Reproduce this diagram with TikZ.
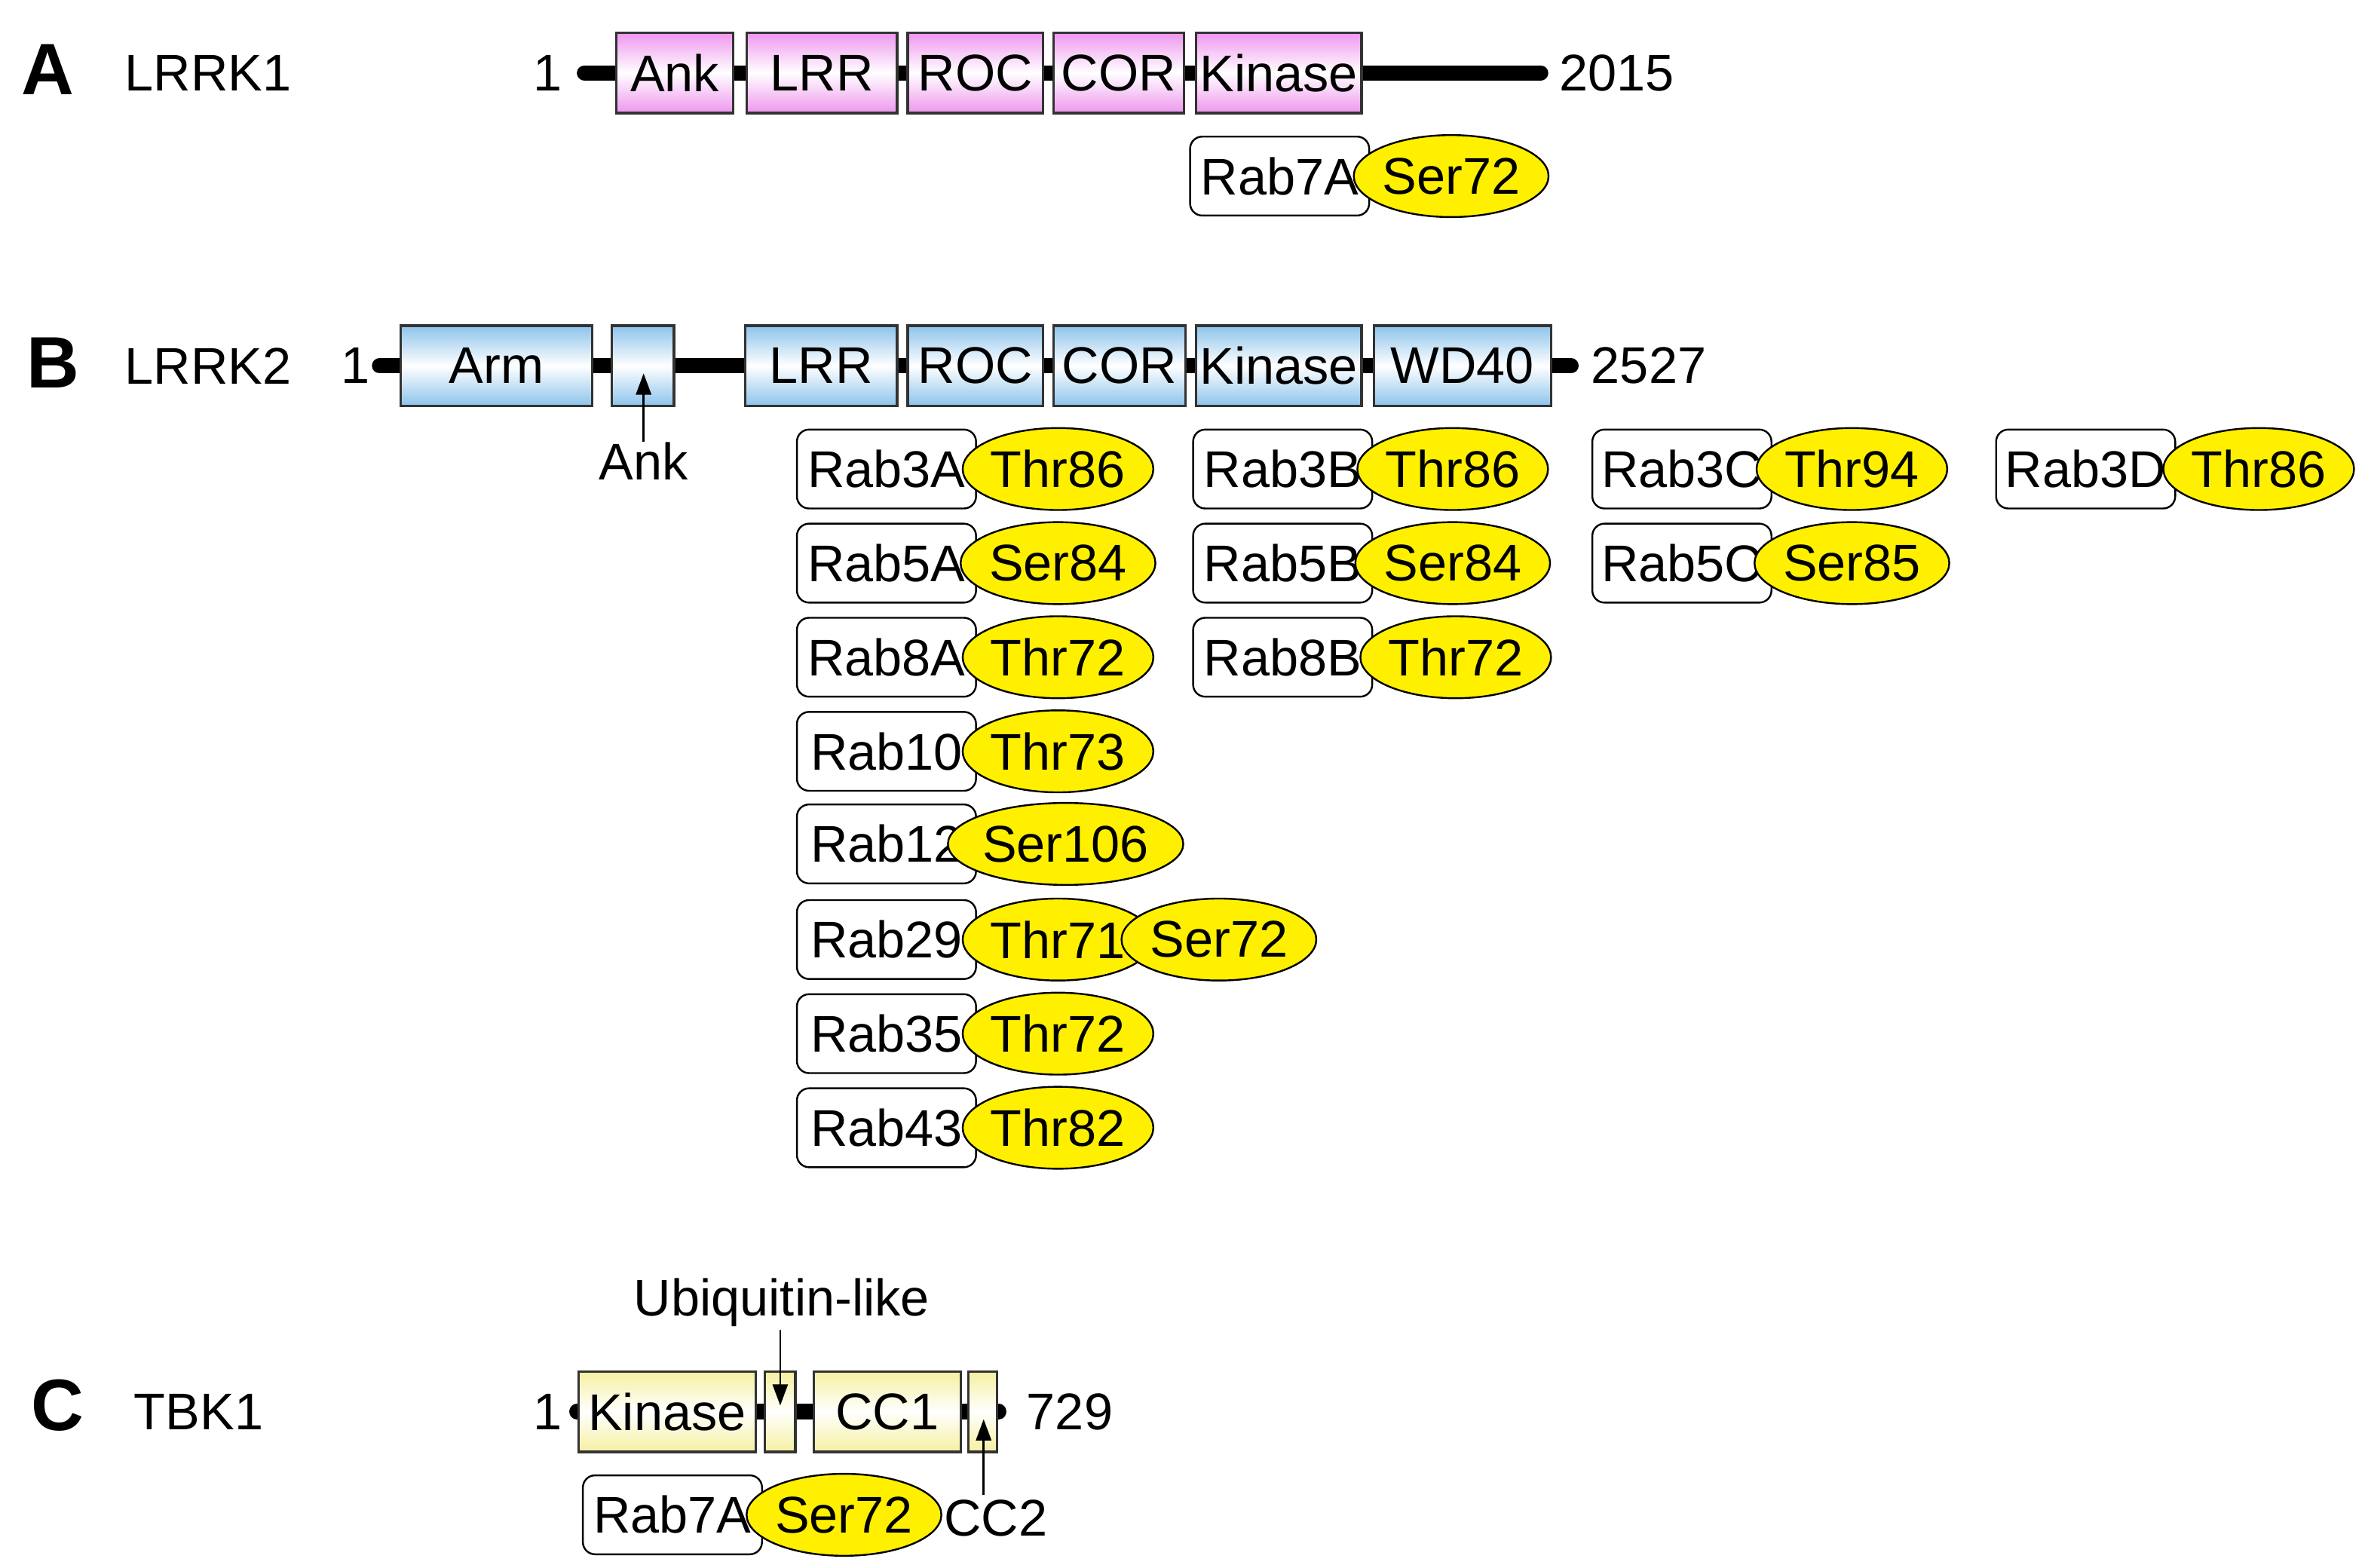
\documentclass[tikz,border=0pt]{standalone}
\usepackage{fontspec}
\setmainfont{Liberation Sans}
\usetikzlibrary{shapes.geometric,arrows.meta}
\definecolor{pk}{RGB}{238,150,238}
\definecolor{bl}{RGB}{140,195,235}
\definecolor{yl}{RGB}{245,240,160}
\definecolor{yel}{RGB}{255,240,0}
\tikzset{
 txt/.style={font=\fontsize{17}{20}\selectfont, inner sep=0pt},
 lab/.style={font=\fontsize{24}{28}\selectfont\bfseries, inner sep=0pt},
 dom/.style={draw=black!80, line width=0.8pt, txt, minimum height=26.5pt, top color=#1, bottom color=#1, middle color=white},
 rab/.style={draw, line width=0.6pt, rounded corners=4pt, txt, minimum width=59pt, minimum height=26pt, fill=white},
 site/.style={draw, line width=0.6pt, ellipse, fill=yel, txt, minimum width=55pt, minimum height=27pt},
 bb/.style={line width=5pt, line cap=round},
 arr/.style={line width=0.7pt, -{Triangle[length=7pt,width=5pt]}}
}
\begin{document}
\begin{tikzpicture}[x=0.5pt,y=-0.5pt]
\useasboundingbox (0,0) rectangle (1560,1033);
% ---- A
\node[lab,anchor=west] (lA) at (14,46) {A};
\node[txt,anchor=west] (nA) at (82,48) {LRRK1};
\node[txt] (sA) at (361,48) {1};
\node[txt,anchor=west] (eA) at (1027,48) {2015};
\coordinate (a1) at (385,48); \coordinate (a2) at (1015,48);
\draw[bb] (a1) -- (a2);
\node[dom=pk,minimum width=38.5pt] (ank1) at (444.5,48) {Ank};
\node[dom=pk,minimum width=49.5pt] (lrr1) at (541.5,48) {LRR};
\node[dom=pk,minimum width=44.5pt] (roc1) at (642.5,48) {ROC};
\node[dom=pk,minimum width=43pt] (cor1) at (737,48) {COR};
\node[dom=pk,minimum width=54.5pt] (kin1) at (842.5,48) {Kinase};
\node[rab] (r7a) at (843,116) {Rab7A};
\node[site] (s7a) at (956,116) {Ser72};
% ---- B
\node[lab,anchor=west] (lB) at (17,239) {B};
\node[txt,anchor=west] (nB) at (82,241) {LRRK2};
\node[txt] (sB) at (234,241) {1};
\node[txt,anchor=west] (eB) at (1048,241) {2527};
\coordinate (b1) at (250,241); \coordinate (b2) at (1035,241);
\draw[bb] (b1) -- (b2);
\node[dom=bl,minimum width=63pt] (arm) at (327,241) {Arm};
\node[dom=bl,minimum width=20.5pt] (ank2) at (423.5,241) {};
\node[dom=bl,minimum width=50pt] (lrr2) at (541,241) {LRR};
\node[dom=bl,minimum width=44.5pt] (roc2) at (642.5,241) {ROC};
\node[dom=bl,minimum width=43.5pt] (cor2) at (737.5,241) {COR};
\node[dom=bl,minimum width=54.5pt] (kin2) at (842.5,241) {Kinase};
\node[dom=bl,minimum width=58.5pt] (wd) at (963.5,241) {WD40};
\node[txt] (ankl) at (424,304) {Ank};
\coordinate (ankt) at (424,246);
\draw[arr] (ankl.north) -- (ankt);
% column 1
\node[rab] (r3a) at (584,309) {Rab3A}; \node[site] (s3a) at (697,309) {Thr86};
\node[rab] (r5a) at (584,371) {Rab5A}; \node[site] (s5a) at (697,371) {Ser84};
\node[rab] (r8a) at (584,433) {Rab8A}; \node[site] (s8a) at (697,433) {Thr72};
\node[rab] (r10) at (584,495) {Rab10}; \node[site] (s10) at (697,495) {Thr73};
\node[rab] (r12) at (584,556) {Rab12}; \node[site,minimum width=61pt] (s12) at (702,556) {Ser106};
\node[rab] (r29) at (584,619) {Rab29}; \node[site] (s29a) at (697,619) {Thr71};
\node[site] (s29b) at (803,619) {Ser72};
\node[rab] (r35) at (584,681) {Rab35}; \node[site] (s35) at (697,681) {Thr72};
\node[rab] (r43) at (584,743) {Rab43}; \node[site] (s43) at (697,743) {Thr82};
% column 2
\node[rab] (r3b) at (845,309) {Rab3B}; \node[site] (s3b) at (957,309) {Thr86};
\node[rab] (r5b) at (845,371) {Rab5B}; \node[site] (s5b) at (957,371) {Ser84};
\node[rab] (r8b) at (845,433) {Rab8B}; \node[site] (s8b) at (959,433) {Thr72};
% column 3,4
\node[rab] (r3c) at (1108,309) {Rab3C}; \node[site] (s3c) at (1220,309) {Thr94};
\node[rab] (r5c) at (1108,371) {Rab5C}; \node[site] (s5c) at (1220,371) {Ser85};
\node[rab] (r3d) at (1374,309) {Rab3D}; \node[site] (s3d) at (1488,309) {Thr86};
% ---- C
\node[lab,anchor=west] (lC) at (20,926) {C};
\node[txt,anchor=west] (nC) at (88,930) {TBK1};
\node[txt] (sC) at (361,930) {1};
\node[txt,anchor=west] (eC) at (676,930) {729};
\coordinate (c1) at (380,930); \coordinate (c2) at (658,930);
\draw[bb] (c1) -- (c2);
\node[dom=yl,minimum width=58.5pt] (kinc) at (439.5,930) {Kinase};
\node[dom=yl,minimum width=10pt] (ubl) at (514,930) {};
\node[dom=yl,minimum width=48.5pt] (cc1) at (584.5,930) {CC1};
\node[dom=yl,minimum width=9.5pt] (cc2) at (647.5,930) {};
\node[txt] (ubll) at (515,858) {Ubiquitin-like};
\coordinate (ublt) at (514,926);
\draw[arr] (514,876) -- (ublt);
\node[txt] (cc2l) at (656,1000) {CC2};
\coordinate (cc2t) at (648,935);
\draw[arr] (648,985) -- (cc2t);
\node[rab] (r7c) at (443,998) {Rab7A}; \node[site] (s7c) at (556,998) {Ser72};
\end{tikzpicture}
\end{document}
